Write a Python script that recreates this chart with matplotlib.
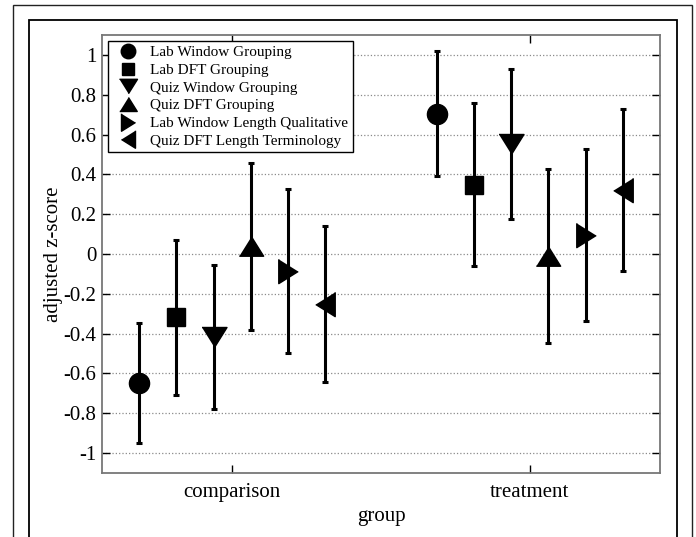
import matplotlib
matplotlib.use("Agg")
from matplotlib import pyplot as plt
from matplotlib.patches import Rectangle
import numpy as np

plt.rcParams['font.family'] = ['Liberation Serif', 'DejaVu Serif']

groups = ["comparison", "treatment"]
series = ["Lab Window Grouping", "Lab DFT Grouping", "Quiz Window Grouping",
          "Quiz DFT Grouping", "Lab Window Length Qualitative",
          "Quiz DFT Length Terminology"]
# mean z-score per series: [comparison, treatment]
means = [[-0.647, 0.705],
         [-0.318, 0.349],
         [-0.416, 0.552],
         [0.039, -0.012],
         [-0.083, 0.093],
         [-0.251, 0.322]]
# half-width of error bars
errs = [[0.302, 0.315],
        [0.389, 0.408],
        [0.361, 0.377],
        [0.419, 0.437],
        [0.412, 0.432],
        [0.393, 0.406]]
offsets = [-5/16, -3/16, -1/16, 1/16, 3/16, 5/16]

tri_down = [(-1, 0.8), (1, 0.8), (0, -0.8)]
tri_up = [(-1, -0.8), (1, -0.8), (0, 0.8)]
tri_right = [(-0.8, 1), (-0.8, -1), (0.8, 0)]
tri_left = [(0.8, 1), (0.8, -1), (-0.8, 0)]
markers = ['o', 's', tri_down, tri_up, tri_right, tri_left]
msizes = [14.5, 12.5, 18, 17.5, 17.5, 17.5]

fig = plt.figure(figsize=(6.96, 5.37), dpi=100)
fig.patches.append(Rectangle((0.0187, -0.02), 0.9756, 1.0107, transform=fig.transFigure,
                             fill=False, edgecolor='#222222', linewidth=1.0))
fig.patches.append(Rectangle((0.0417, -0.02), 0.9306, 0.9828, transform=fig.transFigure,
                             fill=False, edgecolor='black', linewidth=1.3))

ax = fig.add_axes([0.1466, 0.1192, 0.8017, 0.8156])
x = np.arange(1, len(groups) + 1)
for i in range(len(series)):
    ax.errorbar(x + offsets[i], means[i], yerr=errs[i], fmt='none', ecolor='black',
                elinewidth=2.2, capsize=2.2, capthick=2.2, zorder=3)
    ax.plot(x + offsets[i], means[i], linestyle='none', marker=markers[i],
            markersize=msizes[i], color='black', label=series[i], zorder=4)

ax.set_xlim(0.5625, 2.4375)
ax.set_ylim(-1.1, 1.1)
ax.set_xticks(x)
ax.set_xticklabels(groups)
ax.set_yticks(np.arange(-1, 1.01, 0.2))
ax.set_yticklabels(['-1', '-0.8', '-0.6', '-0.4', '-0.2', '0', '0.2', '0.4', '0.6', '0.8', '1'])
ax.tick_params(direction='in', length=6, width=1, top=True, right=True, labelsize=15)
ax.tick_params(axis='y', pad=4)
ax.tick_params(axis='x', pad=7)
ax.yaxis.grid(True, linestyle=':', color='#8a8a8a', linewidth=0.9)
for s in ax.spines.values():
    s.set_color('#777777')
    s.set_linewidth(1.3)
ax.set_xlabel("group", fontsize=15, labelpad=4)
ax.set_ylabel("adjusted z-score", fontsize=15, labelpad=0)

leg = ax.legend(loc='upper left', bbox_to_anchor=(0.011, 0.986), fontsize=11,
                markerscale=0.72, fancybox=False, framealpha=1, edgecolor='black',
                handlelength=2.0, handletextpad=0.45, labelspacing=0.26,
                borderpad=0.3, borderaxespad=0)
leg.get_frame().set_linewidth(1.0)

fig.savefig("out.png", dpi=100)
